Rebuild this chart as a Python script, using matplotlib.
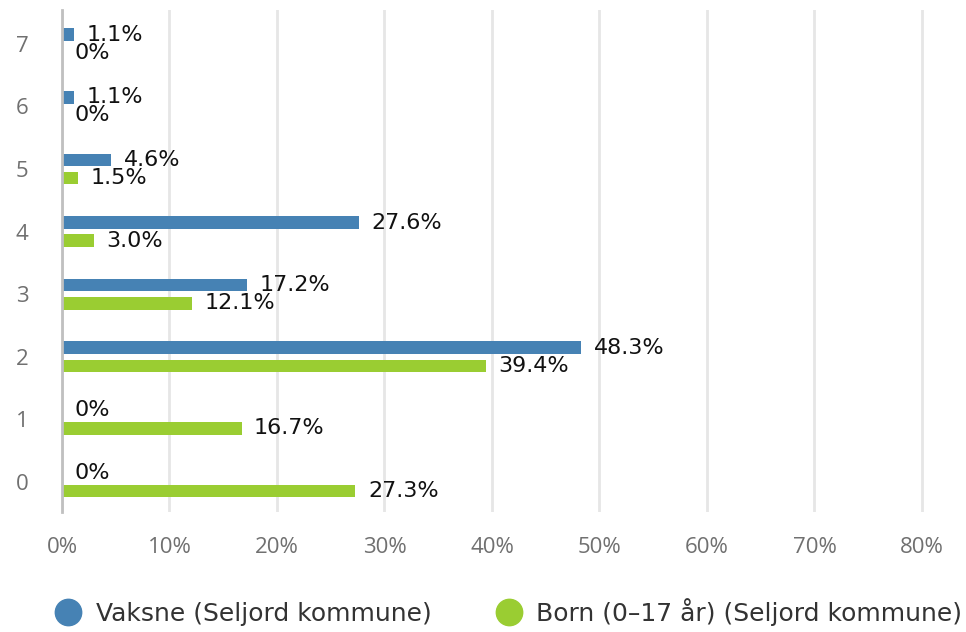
import matplotlib.pyplot as plt
import numpy as np
from matplotlib.lines import Line2D

categories = ["0", "1", "2", "3", "4", "5", "6", "7"]
vaksne = [0, 0, 48.3, 17.2, 27.6, 4.6, 1.1, 1.1]
born = [27.3, 16.7, 39.4, 12.1, 3.0, 1.5, 0, 0]
vaksne_labels = ["0%", "0%", "48.3%", "17.2%", "27.6%", "4.6%", "1.1%", "1.1%"]
born_labels = ["27.3%", "16.7%", "39.4%", "12.1%", "3.0%", "1.5%", "0%", "0%"]
xticks = [0, 10, 20, 30, 40, 50, 60, 70, 80]

BLUE = "#4682b4"
GREEN = "#9acd32"

fig = plt.figure(figsize=(9.66, 6.32), dpi=100)
ax = fig.add_axes([62 / 966, 1 - 512 / 632, (966 - 62) / 966, 502 / 632])

y = np.arange(len(categories))
h = 0.2
off = 0.145
ax.barh(y + off, vaksne, height=h, color=BLUE, zorder=3)
ax.barh(y - off, born, height=h, color=GREEN, zorder=3)

# value labels next to bar ends
for yi, v, lab in zip(y, vaksne, vaksne_labels):
    ax.annotate(lab, (v, yi + off), xytext=(9, 0), textcoords="offset points",
                va="center", ha="left", fontsize=16, color="#111111", zorder=4)
for yi, v, lab in zip(y, born, born_labels):
    ax.annotate(lab, (v, yi - off), xytext=(9, 0), textcoords="offset points",
                va="center", ha="left", fontsize=16, color="#111111", zorder=4)

ax.set_xlim(0, 84.1)
ax.set_ylim(-0.48, 7.54)
ax.set_xticks(xticks)
ax.set_xticklabels([f"{t}%" for t in xticks])
ax.set_yticks(y)
ax.set_yticklabels(categories)
ax.tick_params(axis="both", length=0, colors="#707070", labelsize=16)
ax.tick_params(axis="x", pad=18)
ax.tick_params(axis="y", pad=24)
for lbl in ax.get_xticklabels() + ax.get_yticklabels():
    lbl.set_family("Open Sans")

ax.grid(axis="x", color="#e6e6e6", linewidth=2, zorder=0)
for s in ["top", "right", "bottom"]:
    ax.spines[s].set_visible(False)
ax.spines["left"].set_color("#c0c0c0")
ax.spines["left"].set_linewidth(2)
ax.spines["left"].set_zorder(5)

handles = [
    Line2D([], [], marker="o", linestyle="", markersize=19, color=BLUE,
           label="Vaksne (Seljord kommune)"),
    Line2D([], [], marker="o", linestyle="", markersize=19, color=GREEN,
           label="Born (0\u201317 år) (Seljord kommune)"),
]
fig.legend(handles=handles, loc="center left", bbox_to_anchor=(53 / 966, 1 - 612 / 632),
           ncol=2, frameon=False, handletextpad=0.5, columnspacing=2.5,
           handlelength=1.2, borderpad=0, borderaxespad=0,
           labelcolor="#333333", prop={"family": "DejaVu Sans", "size": 18})

fig.savefig("out.png", dpi=100)
